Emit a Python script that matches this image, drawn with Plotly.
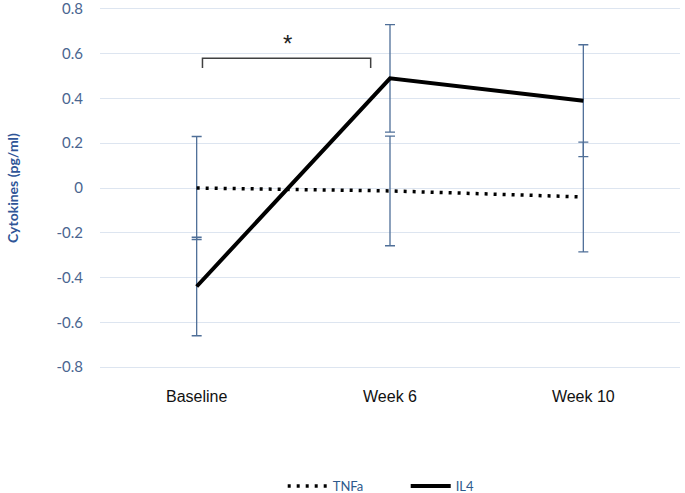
import plotly.graph_objects as go

categories = ["Baseline", "Week 6", "Week 10"]
tnfa = [0.0, -0.013, -0.04]
tnfa_err = [0.23, 0.245, 0.245]
il4 = [-0.44, 0.49, 0.39]
il4_err = [0.22, 0.24, 0.25]
y_ticks = [-0.8, -0.6, -0.4, -0.2, 0, 0.2, 0.4, 0.6, 0.8]
y_tick_text = ["-0.8", "-0.6", "-0.4", "-0.2", "0", "0.2", "0.4", "0.6", "0.8"]

err_color = "#4f6f98"
blue_text = "#4a6590"

fig = go.Figure()
fig.add_trace(go.Scatter(
    x=categories, y=tnfa, name="TNFa", mode="lines",
    line=dict(color="black", width=3.5, dash="3px,6px"),
    error_y=dict(type="data", array=tnfa_err, visible=True,
                 color=err_color, thickness=1.3, width=5),
))
fig.add_trace(go.Scatter(
    x=categories, y=il4, name="IL4", mode="lines",
    line=dict(color="black", width=4),
    error_y=dict(type="data", array=il4_err, visible=True,
                 color=err_color, thickness=1.3, width=5),
))

# significance bracket
fig.add_shape(type="path", xref="x", yref="y",
              path="M 0.03,0.536 L 0.03,0.58 L 0.90,0.58 L 0.90,0.536",
              line=dict(color="#404040", width=1.5))
fig.add_annotation(x=0.47, y=0.645, xref="x", yref="y", text="*",
                   showarrow=False,
                   font=dict(family="Liberation Sans, Arial", size=24, color="#222222"))

fig.update_layout(
    width=685, height=493,
    margin=dict(l=100, r=5, t=4, b=121, autoexpand=False),
    paper_bgcolor="white", plot_bgcolor="white",
    showlegend=True,
    legend=dict(orientation="h", x=0.315, xanchor="left", y=-0.31, yanchor="middle",
                font=dict(family="Lato, Open Sans", size=13, color="#2e5a8c"),
                entrywidth=68, entrywidthmode="pixels",
                itemwidth=40, bgcolor="rgba(0,0,0,0)"),
    xaxis=dict(type="category", range=[-0.5, 2.5], showgrid=False, showline=False,
               zeroline=False, ticks="", ticklabelstandoff=13, automargin=False,
               tickfont=dict(family="Liberation Sans, Arial", size=16, color="#111111")),
    yaxis=dict(range=[-0.822, 0.822], tickvals=y_ticks, ticktext=y_tick_text,
               showgrid=True, gridcolor="#dde5f0", gridwidth=1, zeroline=False,
               showline=False, ticks="", ticklabelstandoff=16, automargin=False,
               ticklabeloverflow="allow",
               tickfont=dict(family="Lato, Open Sans", size=15, color=blue_text),
               title=dict(text="<b>Cytokines (pg/ml)</b>", standoff=34,
                          font=dict(family="Lato, Open Sans", size=14, color="#2f5597"))),
)

fig.write_html("out.html", config={"displayModeBar": False},
               post_script="document.body.style.margin='0';")
